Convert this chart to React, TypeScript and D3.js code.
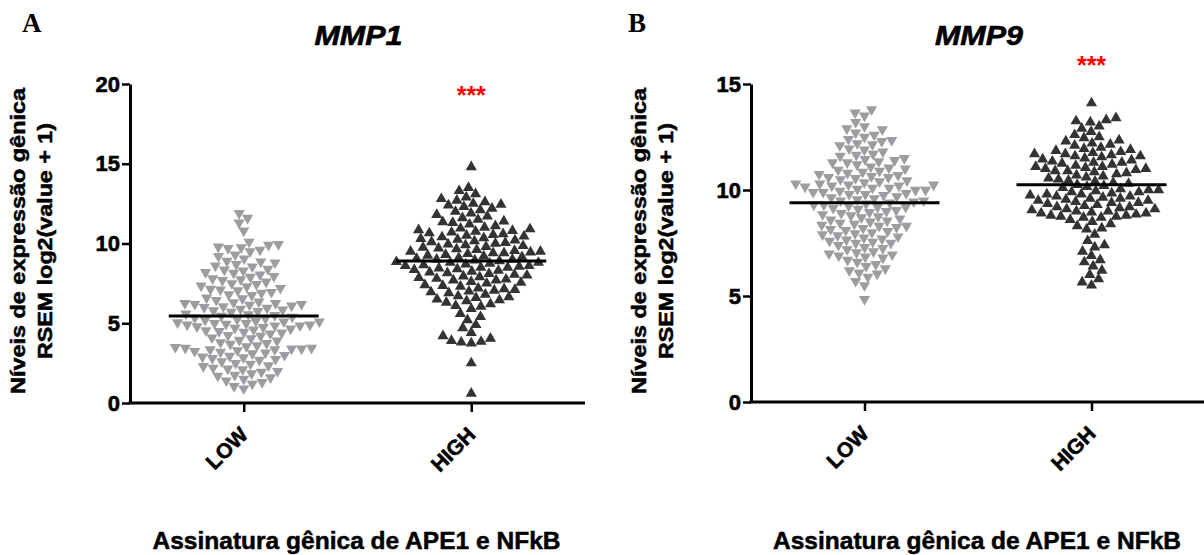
import React, { useRef, useEffect } from "react";
import { select, scaleLinear, scalePoint, axisLeft, axisBottom, symbol, symbolTriangle } from "d3";

const WIDTH = 1204;
const HEIGHT = 555;
const COLOR_LOW = "#9d9da1";
const COLOR_HIGH = "#333333";
const FONT = "'Liberation Sans', Arial, sans-serif";

const categories = ["LOW", "HIGH"];
const yLabelLines = ["Níveis de expressão gênica", "RSEM log2(value + 1)"];
const xTitle = "Assinatura gênica de APE1 e NFkB";

// MMP1 (panel A)
const mmp1Low = [
  11.9, 11.6, 11.3, 10.8,
  10.1, 9.95, 9.9, 9.8, 9.75, 9.7, 9.6, 9.5,
  9.3, 9.2, 9.05, 8.9, 8.85, 8.8, 8.7, 8.6, 8.55,
  8.4, 8.35, 8.3, 8.2, 8.15, 8.05, 7.95, 7.9, 7.8, 7.75, 7.7, 7.6,
  7.5, 7.45, 7.35, 7.3, 7.2, 7.15, 7.1, 7.05, 6.95, 6.9, 6.8, 6.75,
  6.6, 6.55, 6.45, 6.35, 6.3, 6.25, 6.25, 6.2, 6.2, 6.15, 6.1, 6.05, 6.0, 5.95,
  5.9, 5.85, 5.8, 5.75, 5.7, 5.6, 5.55, 5.5, 5.45, 5.4, 5.35, 5.3, 5.25, 5.2, 5.15, 5.1,
  5.1, 5.05, 5.0, 5.0, 4.95, 4.9, 4.9, 4.85, 4.85, 4.8, 4.75, 4.7, 4.65, 4.6, 4.55, 4.5, 4.45, 4.4, 4.35,
  4.25, 4.2, 4.1, 4.05, 3.95, 3.9, 3.8, 3.75, 3.7, 3.6, 3.55, 3.5, 3.45,
  3.45, 3.4, 3.4, 3.35, 3.35, 3.3, 3.25, 3.2, 3.15, 3.1, 3.0, 2.95, 2.9, 2.85, 2.8, 2.75, 2.7,
  2.6, 2.5, 2.45, 2.35, 2.3, 2.2, 2.15, 2.1, 2.0, 1.95,
  1.85, 1.75, 1.7, 1.6, 1.5, 1.4, 1.3, 1.2, 1.05, 0.9,
];
const mmp1High = [
  14.8,
  13.5, 13.3, 13.1,
  12.9, 12.8, 12.7, 12.6, 12.5, 12.45, 12.4, 12.3, 12.2, 12.1, 12.0, 11.9,
  11.8, 11.7, 11.6, 11.5, 11.4, 11.35, 11.3, 11.2, 11.1, 11.0,
  10.95, 10.9, 10.85, 10.8, 10.75, 10.7, 10.65, 10.6, 10.55, 10.5, 10.45, 10.4, 10.35, 10.3, 10.25, 10.2, 10.15, 10.1,
  10.05, 10.0, 9.95, 9.9, 9.85, 9.8, 9.75, 9.7, 9.65, 9.6, 9.55, 9.5, 9.5, 9.45, 9.4, 9.4, 9.35, 9.3,
  9.25, 9.2, 9.15, 9.1, 9.05, 9.0, 9.0, 8.95, 8.9, 8.85, 8.8, 8.8, 8.75, 8.7, 8.65, 8.6, 8.6, 8.55, 8.5, 8.5,
  8.45, 8.4, 8.35, 8.3, 8.25, 8.2, 8.15, 8.1, 8.05, 8.0, 7.95, 7.9, 7.85, 7.8, 7.75, 7.7, 7.7,
  7.6, 7.55, 7.5, 7.4, 7.35, 7.3, 7.2, 7.15, 7.1, 7.05, 7.0, 6.95, 6.9,
  6.8, 6.7, 6.65, 6.6, 6.5, 6.45, 6.4, 6.3, 6.2, 6.1, 6.05,
  5.9, 5.6, 5.4, 5.2, 4.9, 4.7, 4.4, 4.2,
  4.05, 3.9, 3.85, 3.8, 3.75,
  2.5, 0.6,
];

// MMP9 (panel B)
const mmp9Low = [
  13.8, 13.65, 13.5,
  13.2, 13.0, 12.9, 12.85, 12.7,
  12.6, 12.5, 12.4, 12.35, 12.3, 12.2, 12.15, 12.1,
  11.95, 11.9, 11.8, 11.7, 11.65, 11.6, 11.5, 11.45, 11.4, 11.35, 11.3, 11.3,
  11.2, 11.1, 11.05, 11.0, 10.95, 10.9, 10.85, 10.8, 10.75, 10.7, 10.65, 10.6, 10.6, 10.55, 10.5, 10.45,
  10.4, 10.35, 10.3, 10.3, 10.25, 10.25, 10.2, 10.2, 10.15, 10.1, 10.1, 10.05, 10.0, 10.0, 9.95, 9.9, 9.9, 9.85, 9.8, 9.8, 9.75, 9.7, 9.65,
  9.6, 9.55, 9.5, 9.5, 9.45, 9.4, 9.35, 9.3, 9.3, 9.25, 9.2, 9.2, 9.15, 9.1, 9.05,
  9.0, 8.95, 8.9, 8.85, 8.8, 8.75, 8.7, 8.65, 8.6, 8.55, 8.5, 8.45, 8.4, 8.35, 8.3, 8.3, 8.25, 8.2,
  8.15, 8.1, 8.05, 8.0, 7.95, 7.9, 7.85, 7.8, 7.75, 7.7, 7.65, 7.6, 7.55, 7.5, 7.5,
  7.4, 7.3, 7.25, 7.2, 7.1, 7.05, 7.0, 6.95, 6.9, 6.85, 6.8,
  6.7, 6.6, 6.5, 6.4, 6.3, 6.2, 6.1, 6.05,
  5.9, 5.7, 5.5,
  4.85,
];
const mmp9High = [
  14.1,
  13.4, 13.3, 13.25, 13.2,
  13.0, 12.9, 12.75, 12.6, 12.5, 12.45,
  12.35, 12.3, 12.2, 12.15, 12.1, 12.0, 11.95, 11.9, 11.85, 11.8, 11.75, 11.7, 11.7, 11.65, 11.6, 11.6,
  11.55, 11.5, 11.45, 11.4, 11.35, 11.3, 11.3, 11.25, 11.2, 11.15, 11.1, 11.1, 11.05, 11.0, 11.0, 10.95, 10.9, 10.9, 10.85, 10.8,
  10.75, 10.7, 10.65, 10.6, 10.55, 10.5, 10.45, 10.4, 10.35, 10.3, 10.25, 10.2, 10.15, 10.1,
  10.05, 10.0, 10.0, 9.95, 9.9, 9.9, 9.85, 9.8, 9.8, 9.75, 9.7, 9.7, 9.65, 9.6, 9.6, 9.55, 9.5, 9.5, 9.45, 9.4, 9.4, 9.35,
  9.3, 9.25, 9.2, 9.2, 9.15, 9.1, 9.1, 9.05, 9.0, 9.0, 8.95, 8.9, 8.9, 8.85, 8.8, 8.8, 8.75, 8.75, 8.7, 8.7,
  8.6, 8.5, 8.4, 8.3, 8.2, 8.15,
  7.9, 7.6, 7.4, 7.3,
  7.1, 6.9, 6.7, 6.6, 6.4,
  6.2, 6.0, 5.8, 5.65, 5.5,
];

// horizontal lines drawn by the original figure (LOW, HIGH)
const mmp1Means = [5.45, 8.9];
const mmp9Means = [9.4, 10.25];

const mmp1Ticks = [0, 5, 10, 15, 20];
const mmp9Ticks = [0, 5, 10, 15];

const panels = [
  { letter: "A", title: "MMP1", low: mmp1Low, high: mmp1High, means: mmp1Means, ticks: mmp1Ticks,
    left: 130, right: 585, top: 84, bottom: 403, starY: 104, letterX: 22 },
  { letter: "B", title: "MMP9", low: mmp9Low, high: mmp9High, means: mmp9Means, ticks: mmp9Ticks,
    left: 751, right: 1205, top: 84, bottom: 402, starY: 74, letterX: 628 },
];

// simple beeswarm: each point goes to the free x offset closest to the centre
const swarm = (values, y, dx, dy) => {
  const placed = [];
  const sorted = [...values].sort((a, b) => a - b);
  sorted.forEach((v) => {
    const py = y(v);
    const blocks = [];
    placed.forEach((p) => {
      const d = Math.abs(p.y - py);
      if (d < dy) {
        const hw = dx * Math.sqrt(1 - (d / dy) ** 2);
        blocks.push([p.x - hw, p.x + hw]);
      }
    });
    const candidates = [0];
    blocks.forEach(([a, b]) => candidates.push(a, b));
    candidates.sort((a, b) => Math.abs(a) - Math.abs(b));
    const x = candidates.find((c) => blocks.every(([a, b]) => c <= a + 1e-6 || c >= b - 1e-6));
    placed.push({ x, y: py, v });
  });
  return placed;
};

// heavier text, like the original export
const heavy = (sel, w = 0.5) => sel.attr("stroke", sel.attr("fill") || "#000").attr("stroke-width", w);

const drawPanel = (svg, p) => {
  const y = scaleLinear().domain([0, p.ticks[p.ticks.length - 1]]).range([p.bottom, p.top]);
  const x = scalePoint().domain(categories).range([p.left, p.right]).padding(0.5);
  const g = svg.append("g");

  // points
  const tri = symbol().type(symbolTriangle).size(54);
  [p.low, p.high].forEach((vals, i) => {
    const cx = x(categories[i]);
    const pts = swarm(vals, y, 10, 9);
    g.append("g")
      .selectAll("path")
      .data(pts)
      .enter()
      .append("path")
      .attr("d", tri)
      .attr("fill", i === 0 ? COLOR_LOW : COLOR_HIGH)
      .attr("transform", (d) => `translate(${cx + d.x},${d.y}) rotate(${i === 0 ? 180 : 0})`);
  });

  // mean lines
  g.append("g")
    .selectAll("line")
    .data(p.means)
    .enter()
    .append("line")
    .attr("x1", (d, i) => x(categories[i]) - 75)
    .attr("x2", (d, i) => x(categories[i]) + 75)
    .attr("y1", (d) => y(d))
    .attr("y2", (d) => y(d))
    .attr("stroke", "#000")
    .attr("stroke-width", 3);

  // axes
  g.append("g")
    .attr("transform", `translate(${p.left},0)`)
    .call(axisLeft(y).tickValues(p.ticks).tickSize(8).tickPadding(2).tickSizeOuter(0))
    .call((a) => {
      a.select(".domain").attr("stroke", "#000").attr("stroke-width", 3);
      a.selectAll(".tick line").attr("stroke", "#000").attr("stroke-width", 2.5);
      a.selectAll("text").attr("fill", "#000").style("font", `bold 22px ${FONT}`).call(heavy, 0.6);
    });

  g.append("g")
    .attr("transform", `translate(0,${p.bottom})`)
    .call(axisBottom(x).tickSize(9).tickSizeOuter(0))
    .call((a) => {
      a.select(".domain").attr("stroke", "#000").attr("stroke-width", 3).attr("d", `M${p.left - 1.5},0H${p.right}`);
      a.selectAll(".tick line").attr("stroke", "#000").attr("stroke-width", 2.5);
      a.selectAll("text")
        .attr("fill", "#000")
        .style("font", `bold 21px ${FONT}`)
        .attr("text-anchor", "end")
        .attr("dy", null)
        .attr("y", 0)
        .attr("transform", "translate(5,33) rotate(-45)")
        .call(heavy, 0.6);
    });

  const mid = (p.left + p.right) / 2;

  // significance stars
  g.append("text")
    .attr("x", x("HIGH"))
    .attr("y", p.starY)
    .attr("text-anchor", "middle")
    .attr("fill", "#ff0000")
    .style("font", `bold 25px ${FONT}`)
    .text("***");

  // panel letter
  g.append("text")
    .attr("x", p.letterX)
    .attr("y", 32)
    .style("font", "bold 27px 'Liberation Serif', 'Times New Roman', serif")
    .text(p.letter);

  // title
  g.append("text")
    .attr("x", mid + 1)
    .attr("y", 45)
    .attr("text-anchor", "middle")
    .attr("textLength", 88)
    .attr("lengthAdjust", "spacingAndGlyphs")
    .style("font", `italic bold 27px ${FONT}`)
    .call(heavy, 0.6)
    .text(p.title);

  // y label
  yLabelLines.forEach((t, i) => {
    g.append("text")
      .attr("transform", `translate(${p.left - (i === 0 ? 105 : 78)},241) rotate(-90)`)
      .attr("text-anchor", "middle")
      .attr("textLength", i === 0 ? 306 : 236)
      .attr("lengthAdjust", "spacingAndGlyphs")
      .style("font", `bold 19.5px ${FONT}`)
      .call(heavy, 0.5)
      .text(t);
  });

  // x title
  g.append("text")
    .attr("x", mid - 1)
    .attr("y", 549)
    .attr("text-anchor", "middle")
    .attr("textLength", 408)
    .attr("lengthAdjust", "spacingAndGlyphs")
    .style("font", `bold 24px ${FONT}`)
    .call(heavy, 0.5)
    .text(xTitle);
};

export default function App() {
  const ref = useRef(null);

  useEffect(() => {
    ref.current.innerHTML = "";
    const svg = select(ref.current)
      .append("svg")
      .attr("width", WIDTH)
      .attr("height", HEIGHT)
      .style("position", "absolute")
      .style("left", 0)
      .style("top", 0)
      .style("background", "#fff");
    panels.forEach((p) => drawPanel(svg, p));
  }, []);

  return <div ref={ref} />;
}
